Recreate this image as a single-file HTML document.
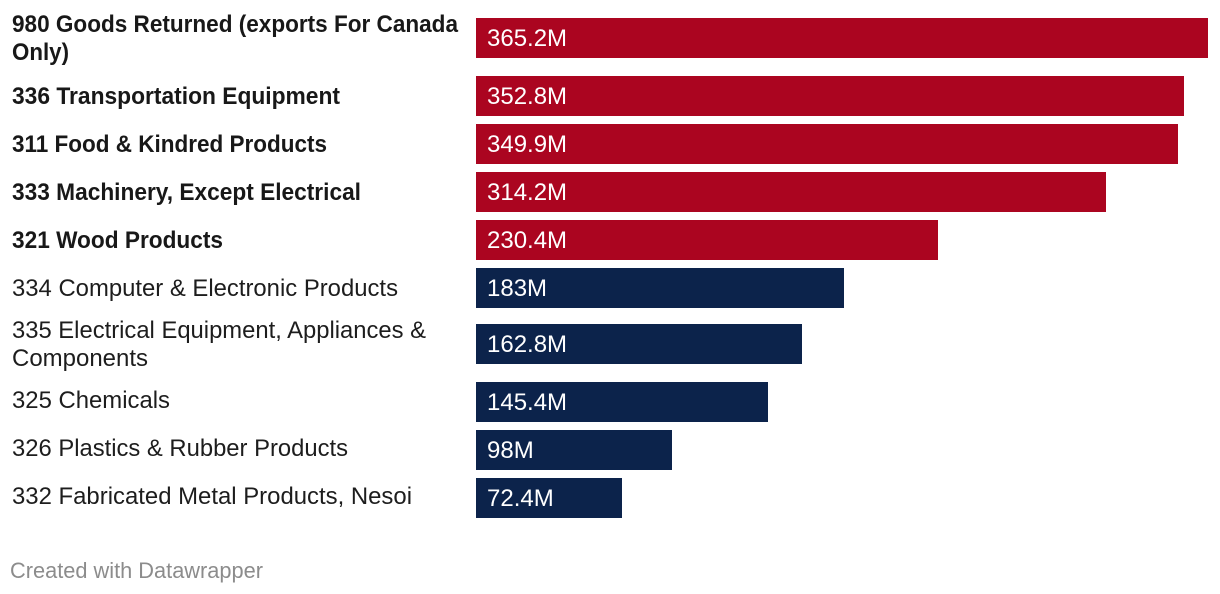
<!DOCTYPE html>
<html lang="en">
<head>
<meta charset="utf-8">
<title>Exports by commodity</title>
<style>
  html, body { margin: 0; padding: 0; background: #fff; }
  body { width: 1220px; height: 594px; overflow: hidden; }
  svg { display: block; font-family: "Liberation Sans", sans-serif; }
  .label { font-size: 24px; fill: #1d1d1d; }
  .label.hi { font-weight: 700; fill: #181818; }
  .value { font-size: 24px; fill: #fff; }
  .credit { font-size: 22px; fill: #8c8c8c; }
</style>
</head>
<body>
<svg id="chart" width="1220" height="594" viewBox="0 0 1220 594" xmlns="http://www.w3.org/2000/svg">
  <text class="credit" x="10" y="578" textLength="253" lengthAdjust="spacingAndGlyphs">Created with Datawrapper</text>
</svg>
<script>
// Chart data
const categoryLines = [
  ["980 Goods Returned (exports For Canada", "Only)"],
  ["336 Transportation Equipment"],
  ["311 Food & Kindred Products"],
  ["333 Machinery, Except Electrical"],
  ["321 Wood Products"],
  ["334 Computer & Electronic Products"],
  ["335 Electrical Equipment, Appliances &", "Components"],
  ["325 Chemicals"],
  ["326 Plastics & Rubber Products"],
  ["332 Fabricated Metal Products, Nesoi"]
];
const values = [365.2, 352.8, 349.9, 314.2, 230.4, 183, 162.8, 145.4, 98, 72.4];
const printedValues = ["365.2M", "352.8M", "349.9M", "314.2M", "230.4M", "183M", "162.8M", "145.4M", "98M", "72.4M"];
const highlighted = [true, true, true, true, true, false, false, false, false, false];

// Axis and layout
const X0 = 476, X_MAX = 1208, MAX_VALUE = 365.2;
const BAR_H = 40, FIRST_TOP = 18, LINE_H = 28;
// Bar widths land on even pixels, as in the 2x-density reference
const xScale = v => Math.ceil((X_MAX - X0) * v / MAX_VALUE / 2 - 0.25) * 2;
const RED = "#ab0520", NAVY = "#0c234b";
// Per-line rendered widths, to fit the substitute font to the reference metrics
const lineFit = {
  "980 Goods Returned (exports For Canada": 446, "Only)": 57,
  "336 Transportation Equipment": 328, "311 Food & Kindred Products": 315,
  "333 Machinery, Except Electrical": 349, "321 Wood Products": 211,
  "334 Computer & Electronic Products": 386,
  "335 Electrical Equipment, Appliances &": 414, "Components": 136,
  "325 Chemicals": 158, "326 Plastics & Rubber Products": 336,
  "332 Fabricated Metal Products, Nesoi": 400
};

const NS = "http://www.w3.org/2000/svg";
const svg = document.getElementById("chart");
let top_ = FIRST_TOP;
values.forEach((v, i) => {
  if (i > 0) {
    top_ += 48 + (categoryLines[i - 1].length - 1) * 10 + (categoryLines[i].length - 1) * 8;
  }
  const centre = top_ + BAR_H / 2;
  const labelCentre = centre + (i > 6 ? -2 : 0);
  const lines = categoryLines[i];
  lines.forEach((line, j) => {
    const t = document.createElementNS(NS, "text");
    
    
    t.setAttribute("class", highlighted[i] ? "label hi" : "label");
    t.setAttribute("x", 12);
    t.setAttribute("y", labelCentre - (lines.length - 1) * LINE_H / 2 + j * LINE_H + 8);
    if (lineFit[line]) {
      t.setAttribute("textLength", lineFit[line]);
      t.setAttribute("lengthAdjust", "spacingAndGlyphs");
    }
    t.textContent = line;
    svg.appendChild(t);
  });
  const r = document.createElementNS(NS, "rect");
  
  
  r.setAttribute("x", X0);
  r.setAttribute("y", top_);
  r.setAttribute("width", xScale(v));
  r.setAttribute("height", BAR_H);
  r.setAttribute("fill", highlighted[i] ? RED : NAVY);
  svg.appendChild(r);
  const vt = document.createElementNS(NS, "text");
  
  
  vt.setAttribute("class", "value");
  vt.setAttribute("x", X0 + 11);
  vt.setAttribute("y", centre + 8);
  vt.textContent = printedValues[i];
  svg.appendChild(vt);
});
</script>
</body>
</html>
